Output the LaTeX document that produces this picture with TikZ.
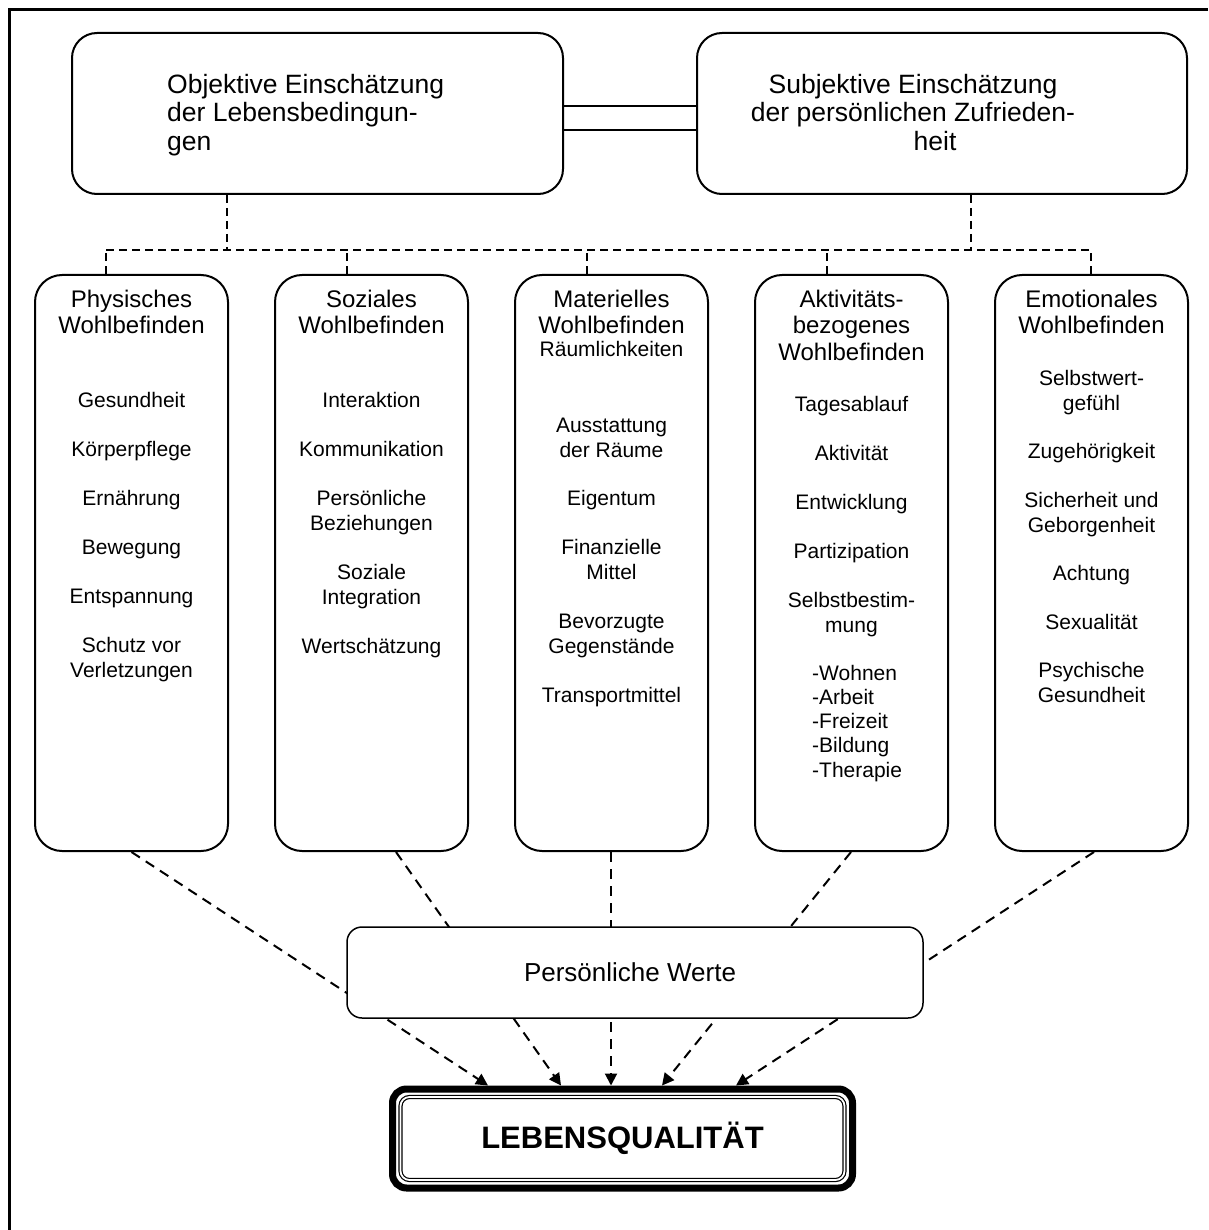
\documentclass[tikz,border=0pt]{standalone}
\usepackage{fontspec}
\setmainfont{Liberation Sans}
\usetikzlibrary{positioning}
\usetikzlibrary{calc,arrows.meta}

\tikzset{
  box/.style={draw, line width=2pt, rounded corners=25pt, inner sep=0pt},
  col/.style={draw, line width=2pt, rounded corners=27pt, minimum width=193pt, minimum height=576pt, inner sep=0pt},
  head/.style={align=center, inner sep=0pt, anchor=north, font=\fontsize{24}{26.5}\selectfont},
  items/.style={align=center, inner sep=0pt, anchor=north, font=\fontsize{21}{25}\selectfont},
  toptxt/.style={inner sep=0pt, font=\fontsize{26.5}{28.5}\selectfont},
  topdash/.style={line width=2pt, dash pattern=on 8pt off 5pt},
  lowdash/.style={line width=2pt, dash pattern=on 10pt off 7pt, -{Triangle[length=12pt,width=12pt]}},
}

\begin{document}
\begin{tikzpicture}[x=1pt,y=-1pt]
\useasboundingbox (0,0) rectangle (1208,1230);
% outer frame
\draw[line width=3pt] (1208,9.5) -- (9.5,9.5) -- (9.5,1230);

% top boxes
\node[box, minimum width=491pt, minimum height=161pt] (obj) at (317.5,113.5) {};
\node[box, minimum width=490pt, minimum height=161pt] (subj) at (942,113.5) {};
\node[toptxt, anchor=north west, align=left] (objtxt) at (167,74) {Objektive Einschätzung\\der Lebensbedingun-\\gen};
\node[toptxt, anchor=north, align=center] (subjtxt) at (913,74) {Subjektive Einschätzung\\der persönlichen Zufrieden-\\\hspace*{44pt}heit};
\draw[line width=1.5pt] ([yshift=7.5pt]obj.east) -- ([yshift=7.5pt]subj.west);
\draw[line width=1.5pt] ([yshift=-16.5pt]obj.east) -- ([yshift=-16.5pt]subj.west);

% columns
\foreach \n/\x/\h in {phys/131.5/{Physisches\\Wohlbefinden}, soz/371.5/{Soziales\\Wohlbefinden},
    mat/611.5/{Materielles\\Wohlbefinden}, akt/851.5/{Aktivitäts-\\bezogenes\\Wohlbefinden},
    emo/1091.5/{Emotionales\\Wohlbefinden}}{
  \node[col] (\n) at (\x,563) {};
  \node[head] (\n-head) at (\x,289.5) {\h};
}
\node[items] (phys-items) at (131.5,391.7) {Gesundheit\\[24pt]Körperpflege\\[24pt]Ernährung\\[24pt]Bewegung\\[24pt]Entspannung\\[24pt]Schutz vor\\Verletzungen};
\node[items] (soz-items) at (371.5,392.5) {Interaktion\\[24pt]Kommunikation\\[24pt]Persönliche\\Beziehungen\\[24pt]Soziale\\Integration\\[24pt]Wertschätzung};
\node[items] (mat-items) at (611.5,340.7) {Räumlichkeiten\\[51pt]Ausstattung\\der Räume\\[23pt]Eigentum\\[24pt]Finanzielle\\Mittel\\[24pt]Bevorzugte\\Gegenstände\\[24pt]Transportmittel};
\node[items] (akt-items) at (851.5,395.7) {Tagesablauf\\[24pt]Aktivität\\[24pt]Entwicklung\\[24pt]Partizipation\\[24pt]Selbstbestim-\\mung};
\node[items, anchor=north west, align=left, font=\fontsize{21}{24.25}\selectfont] (akt-list) at (812,664.7) {-Wohnen\\-Arbeit\\-Freizeit\\-Bildung\\-Therapie};
\node[items] (emo-items) at (1091.5,369.7) {Selbstwert-\\gefühl\\[23.5pt]Zugehörigkeit\\[23.5pt]Sicherheit und\\Geborgenheit\\[23.5pt]Achtung\\[23.5pt]Sexualität\\[23.5pt]Psychische\\Gesundheit};

% dashed tree on top
\coordinate (busL) at (106,250);
\coordinate (busR) at (1091,250);
\coordinate (obj-drop) at ($(obj.south)+(-90.5,0)$);
\coordinate (subj-drop) at ($(subj.south)+(29,0)$);
\draw[topdash] (obj-drop) -- (obj-drop |- busL);
\draw[topdash] (subj-drop) -- (subj-drop |- busL);
\draw[topdash] (busL) -- (busR);
\foreach \n/\dx in {phys/-25.5, soz/-24.5, mat/-24.5, akt/-24.5, emo/-0.5}{
  \coordinate (\n-top) at ($(\n.north)+(\dx,0)$);
  \draw[topdash] (\n-top) -- (\n-top |- busL);
}

% result box
\node[draw, line width=7pt, rounded corners=14pt, minimum width=460pt, minimum height=99pt, inner sep=0pt,
  font=\bfseries\fontsize{31}{36}\selectfont] (lq) at (622.5,1138.5) {LEBENSQUALITÄT};
\draw[line width=1.2pt, double, double distance=1.8pt, rounded corners=9pt]
  ([shift={(11.5pt,-11.5pt)}]lq.north west) rectangle ([shift={(-11.5pt,11.5pt)}]lq.south east);

% dashed arrows, the values box sits on top of them
\foreach \n/\sx/\ex in {phys/0/-134.5, soz/24.5/-61.5, mat/-0.5/-11.5, akt/-0.5/39.5, emo/2.5/113.5}
  \draw[lowdash] ([xshift=\sx pt]\n.south) -- ([xshift=\ex pt]lq.north);

\node[draw, fill=white, line width=1.5pt, rounded corners=15pt, minimum width=576pt, minimum height=91pt,
  inner sep=0pt, font=\fontsize{26}{30}\selectfont] (werte) at (635,972.5) {\hspace*{-10pt}Persönliche Werte};
\end{tikzpicture}
\end{document}
